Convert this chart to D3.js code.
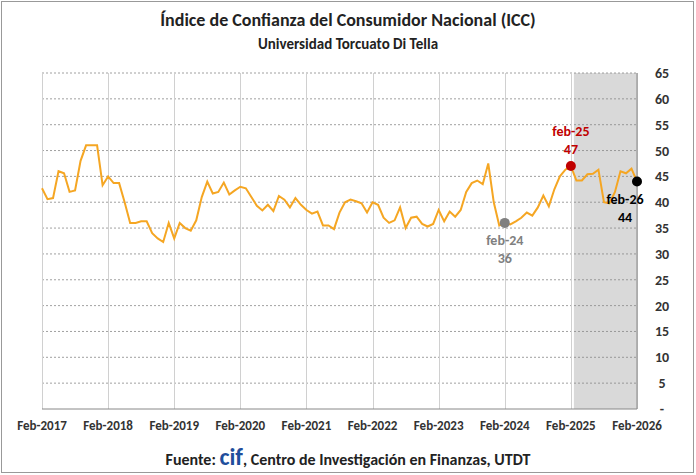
<!DOCTYPE html>
<html><head><meta charset="utf-8">
<script src="https://cdn.jsdelivr.net/npm/d3@7"></script>
<style>body{margin:0;background:#fff}text{font-family:Calibri,"Liberation Sans",Arial,sans-serif}</style>
</head><body>
<svg id="c" width="696" height="475"></svg>
<script>
// monthly ICC from Feb-2017 to Feb-2026
const icc = [
  42.7,40.6,40.8,46,45.6,42,42.3,48,51,51,51,43.3,
  45,43.7,43.7,40,36,36,36.3,36.3,34,33,32.3,36,
  33,36,35,34.5,36.5,41,44,41.7,42,43.8,41.5,42.3,
  43,42.7,41,39.3,38.4,39.5,38.3,41.2,40.5,39,40.8,39.5,
  38.5,37.8,38.2,35.5,35.5,34.8,38,40,40.5,40.2,39.8,38,
  40,39.5,37,36,36.5,39,35,37,37.2,35.8,35.3,35.8,
  38.5,36.3,38.2,37.2,38.5,42,43.7,44.2,43.5,47.5,40,35.5,
  36,35.7,36.3,37,38,37.4,39,41.3,39.2,42.5,45,46.3,
  47,44.2,44.2,45.4,45.5,46.3,40,39.8,42,46,45.6,46.5,44
];
const yearLabels = ["Feb-2017","Feb-2018","Feb-2019","Feb-2020","Feb-2021","Feb-2022","Feb-2023","Feb-2024","Feb-2025","Feb-2026"];
const yTicks = d3.range(0, 66, 5);
const marks = [
  {i: 84, label: "feb-24", val: "36", color: "#808080", below: true, dx: 0},
  {i: 96, label: "feb-25", val: "47", color: "#c00000", below: false, dx: 0},
  {i: 108, label: "feb-26", val: "44", color: "#000000", below: true, dx: -12}
];

const svg = d3.select("#c");
const L = 42, R = 637, T = 73, B = 409;
const x = d3.scaleLinear().domain([0, 108]).range([L, R]);
const y = d3.scaleLinear().domain([0, 65]).range([B, T]);

svg.append("rect").attr("x",1.5).attr("y",1.5).attr("width",692).attr("height",471)
  .attr("fill","none").attr("stroke","#999");

svg.append("rect").attr("x", x(96)+3).attr("y", T).attr("width", R - x(96) - 3).attr("height", B - T)
  .attr("fill", "#d9d9d9");

svg.selectAll(".hg").data(yTicks.slice(1)).join("line")
  .attr("x1", L).attr("x2", R).attr("y1", d => y(d)).attr("y2", d => y(d))
  .attr("stroke", "#888").attr("stroke-dasharray", "2,2").attr("stroke-width", 0.8);
svg.selectAll(".vg").data(yearLabels).join("line")
  .attr("x1", (d,i) => Math.round(x(i*12))+0.5).attr("x2", (d,i) => Math.round(x(i*12))+0.5)
  .attr("y1", T).attr("y2", B)
  .attr("stroke", "#d0d0d0").attr("stroke-width", 1);
svg.append("line").attr("x1",L).attr("x2",R).attr("y1",B).attr("y2",B).attr("stroke","#888");
svg.append("line").attr("x1",R).attr("x2",R).attr("y1",T).attr("y2",B).attr("stroke","#888");

svg.selectAll(".yl").data(yTicks).join("text")
  .attr("x", 662).attr("y", d => y(d) + 5).attr("text-anchor", "middle")
  .attr("font-size", 14).attr("font-weight", "bold").attr("fill", "#333")
  .text(d => d === 0 ? "-" : d);
svg.selectAll(".xl").data(yearLabels).join("text")
  .attr("x", (d,i) => x(i*12)).attr("y", 430).attr("text-anchor", "middle")
  .attr("font-size", 13).attr("font-weight", "bold").attr("fill", "#333").text(d => d);

svg.append("path").datum(icc)
  .attr("d", d3.line().x((d,i) => x(i)).y(d => y(d)))
  .attr("fill", "none").attr("stroke", "#f5a623").attr("stroke-width", 2);

marks.forEach(m => {
  svg.append("circle").attr("cx", x(m.i)).attr("cy", y(icc[m.i])).attr("r", 5).attr("fill", m.color);
  const ty = m.below ? y(icc[m.i]) + 22 : y(icc[m.i]) - 30;
  const tx = x(m.i) + m.dx;
  svg.append("text").attr("x", tx).attr("y", ty).attr("text-anchor","middle").attr("font-size",14)
    .attr("font-weight","bold").attr("fill", m.color).text(m.label);
  svg.append("text").attr("x", tx).attr("y", ty + 18).attr("text-anchor","middle").attr("font-size",14)
    .attr("font-weight","bold").attr("fill", m.color).text(m.val);
});

svg.append("text").attr("x", 348).attr("y", 26).attr("text-anchor","middle").attr("font-size",18)
  .attr("font-weight","bold").attr("fill","#222").text("Índice de Confianza del Consumidor Nacional (ICC)");
svg.append("text").attr("x", 348).attr("y", 49).attr("text-anchor","middle").attr("font-size",15)
  .attr("font-weight","bold").attr("fill","#222").text("Universidad Torcuato Di Tella");

const f = svg.append("text").attr("x", 348).attr("y", 465).attr("text-anchor","middle")
  .attr("font-size",16).attr("font-weight","bold").attr("fill","#222");
f.append("tspan").text("Fuente: ");
f.append("tspan").attr("fill","#1f4e9c").attr("font-size",24).text("cif");
f.append("tspan").text(", Centro de Investigación en Finanzas, UTDT");
</script>
</body></html>
